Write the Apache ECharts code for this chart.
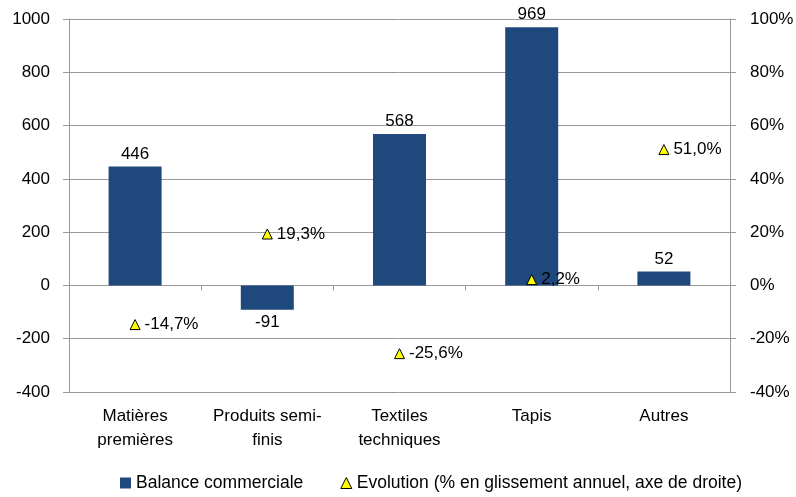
<!DOCTYPE html>
<html>
<head>
<meta charset="utf-8">
<script src="https://cdn.jsdelivr.net/npm/echarts@6/dist/echarts.min.js"></script>
<style>
  html, body { margin: 0; padding: 0; background: #fff; }
  #chart { width: 796px; height: 497px; }
</style>
</head>
<body>
<div id="chart"></div>
<script>
// data
var categories = ['Matières\npremières', 'Produits semi-\nfinis', 'Textiles\ntechniques', 'Tapis', 'Autres']
var balance = [446, -91, 568, 969, 52]
var evolution = [-14.7, 19.3, -25.6, 2.2, 51.0]

var chart = echarts.init(document.getElementById('chart'))
var font = '"Liberation Sans", Arial, sans-serif'
var fs = 17

chart.setOption({
  animation: false,
  textStyle: { fontFamily: font },
  grid: {
    left: 69,
    right: 66,
    top: 19,
    bottom: 105,
    outerBoundsMode: 'none'
  },
  legend: {
    top: 474,
    left: 120,
    padding: 0,
    itemGap: 37,
    itemWidth: 11,
    itemHeight: 11,
    textStyle: { fontSize: 17.5, color: '#000', fontFamily: font },
    data: [
      { name: 'Balance commerciale', icon: 'rect' },
      { name: 'Evolution (% en glissement annuel, axe de droite)', icon: 'triangle', itemStyle: { color: '#ffff00', borderColor: '#000', borderWidth: 1, opacity: 1 } }
    ]
  },
  xAxis: {
    type: 'category',
    data: categories,
    axisLine: { onZero: true, lineStyle: { color: '#999' } },
    axisTick: { show: true, length: 5, lineStyle: { color: '#999' } },
    axisLabel: {
      interval: 0,
      color: '#000',
      fontSize: fs,
      lineHeight: 24,
      margin: 12,
      fontFamily: font
    }
  },
  yAxis: [
    {
      type: 'value',
      min: -400,
      max: 1000,
      interval: 200,
      axisLine: { show: true, lineStyle: { color: '#999' } },
      axisTick: { show: true, length: 6, lineStyle: { color: '#999' } },
      splitLine: { lineStyle: { color: '#999' } },
      axisLabel: { color: '#000', fontSize: fs, margin: 19, fontFamily: font, formatter: function (v) { return String(v) } }
    },
    {
      type: 'value',
      min: -40,
      max: 100,
      interval: 20,
      axisLine: { show: true, lineStyle: { color: '#999' } },
      axisTick: { show: true, length: 6, lineStyle: { color: '#999' } },
      splitLine: { show: false },
      axisLabel: { color: '#000', fontSize: fs, margin: 20, formatter: '{value}%', fontFamily: font }
    }
  ],
  series: [
    {
      name: 'Balance commerciale',
      type: 'bar',
      data: balance.map(function (v) {
        return v < 0 ? { value: v, label: { position: 'bottom' } } : v
      }),
      barWidth: 53,
      itemStyle: { color: '#1f497d' },
      label: {
        show: true,
        position: 'top',
        distance: 4,
        color: '#000',
        fontSize: fs,
        fontFamily: font
      }
    },
    {
      name: 'Evolution (% en glissement annuel, axe de droite)',
      type: 'scatter',
      yAxisIndex: 1,
      data: evolution,
      symbol: 'triangle',
      symbolSize: 10,
      itemStyle: { color: '#ffff00', borderColor: '#000', borderWidth: 1, opacity: 1 },
      label: {
        show: true,
        position: 'right',
        distance: 4,
        color: '#000',
        fontSize: fs,
        fontFamily: font,
        formatter: function (p) {
          return p.value.toFixed(1).replace('.', ',') + '%'
        }
      },
      z: 5
    }
  ]
})
</script>
</body>
</html>
